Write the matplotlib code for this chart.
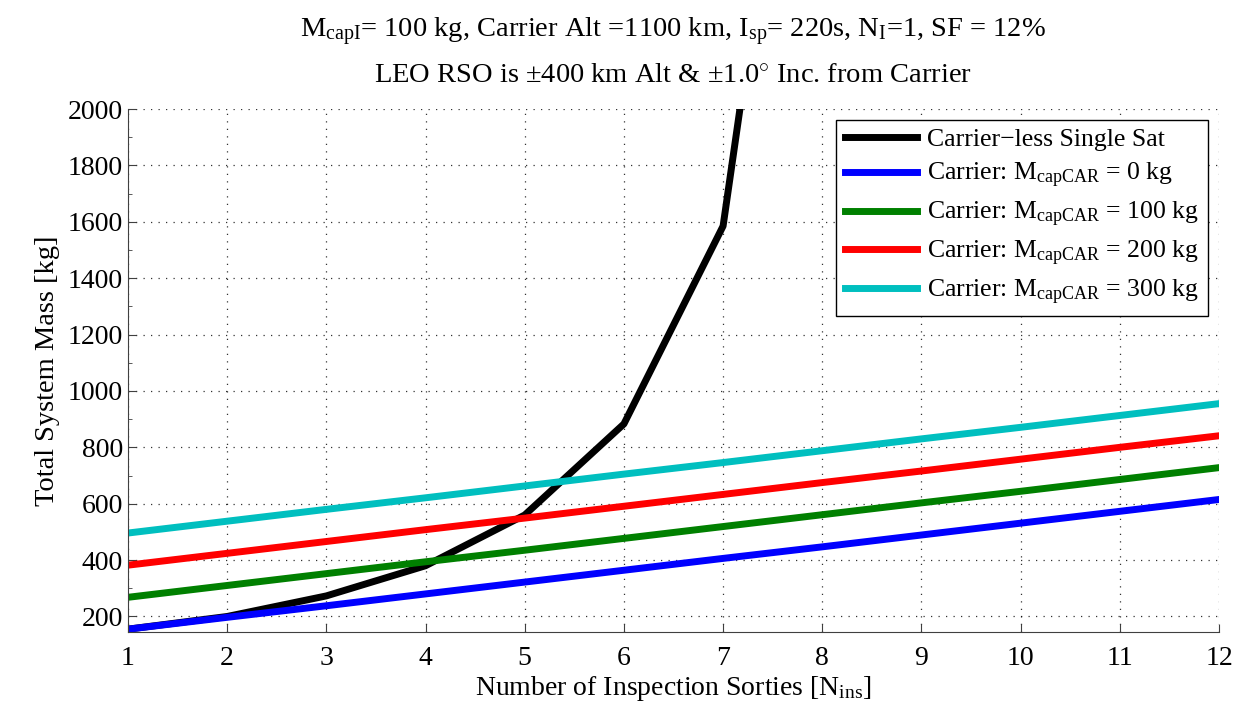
import matplotlib
matplotlib.use("Agg")
import matplotlib.pyplot as plt
from matplotlib.ticker import MultipleLocator

plt.rcParams['font.family'] = ['Liberation Serif', 'DejaVu Serif']
plt.rcParams['mathtext.fontset'] = 'custom'
plt.rcParams['mathtext.rm'] = 'Liberation Serif'
plt.rcParams['mathtext.it'] = 'Liberation Serif:italic'

# Number of inspection sorties
sorties = [1, 2, 3, 4, 5, 6, 7, 8, 9, 10, 11, 12]
sorties_single = [1, 2, 3, 4, 5, 6, 7, 8]

# Total system mass [kg]
mass_single = [155, 200, 273, 380, 560, 883, 1585, 4030]
mass_car0 = [155, 197, 238, 280, 322, 364, 406, 447, 489, 531, 573, 615]
mass_car100 = [268, 310, 352, 394, 435, 477, 519, 561, 603, 644, 686, 728]
mass_car200 = [382, 424, 466, 508, 549, 591, 633, 675, 716, 758, 800, 841]
mass_car300 = [496, 538, 580, 621, 663, 705, 746, 788, 830, 871, 913, 955]

labels = [
    'Carrier\u2212less Single Sat',
    r'Carrier: M$_{\rm capCAR}$ = 0 kg',
    r'Carrier: M$_{\rm capCAR}$ = 100 kg',
    r'Carrier: M$_{\rm capCAR}$ = 200 kg',
    r'Carrier: M$_{\rm capCAR}$ = 300 kg',
]
colors = ['black', '#0000ff', '#008000', '#ff0000', '#00bfbf']

fig = plt.figure(figsize=(12.5, 7.27), dpi=100)
ax = fig.add_axes([0.1024, 0.1307, 0.8728, 0.7193])

lw = 5
ax.plot(sorties_single, mass_single, color=colors[0], lw=lw, label=labels[0])
ax.plot(sorties, mass_car0, color=colors[1], lw=lw, label=labels[1])
ax.plot(sorties, mass_car100, color=colors[2], lw=lw, label=labels[2])
ax.plot(sorties, mass_car200, color=colors[3], lw=lw, label=labels[3])
ax.plot(sorties, mass_car300, color=colors[4], lw=lw, label=labels[4])

ax.set_xlim(1, 12)
ax.set_ylim(145, 2000)
ax.set_xticks(range(1, 13))
ax.set_yticks(range(200, 2001, 200))
ax.yaxis.set_minor_locator(MultipleLocator(100))

ax.grid(True, which='major', color='black', linestyle=(0, (1, 5)), linewidth=0.9, alpha=0.8)
for side in ('top', 'right'):
    ax.spines[side].set_visible(False)
for side in ('left', 'bottom'):
    ax.spines[side].set_color('#404040')
ax.tick_params(which='both', direction='in', labelsize=20, colors='#404040', labelcolor='black')
ax.tick_params(which='major', length=6)
ax.tick_params(which='minor', length=3)
ax.tick_params(axis='x', pad=10)

ax.set_xlabel(r'Number of Inspection Sorties [N$_{\rm ins}$]', fontsize=20, labelpad=2)
ax.set_ylabel('Total System Mass [kg]', fontsize=20.5, labelpad=6)

# Two-line title
fig.text(0.5385, 0.949, 'M$_{\\rm capI}$= 100 kg, Carrier Alt =1100 km, I$_{\\rm sp}$= 220s, '
         'N$_{\\rm I}$=1, SF = 12%', fontsize=20.5, ha='center', va='baseline')
fig.text(0.5385, 0.887, 'LEO RSO is \u00b1400 km Alt & \u00b11.0$^{\\circ}$ Inc. from Carrier',
         fontsize=20.5, ha='center', va='baseline')

leg = ax.legend(loc='upper right', bbox_to_anchor=(0.99, 0.98), fontsize=18.5,
                handlelength=2.8, frameon=True, fancybox=False, borderpad=0.35,
                labelspacing=0.38, handletextpad=0.4, borderaxespad=0)
leg.get_frame().set_edgecolor('black')
leg.get_frame().set_linewidth(1.0)
leg.get_frame().set_alpha(1)

fig.savefig('out.png', dpi=100)
